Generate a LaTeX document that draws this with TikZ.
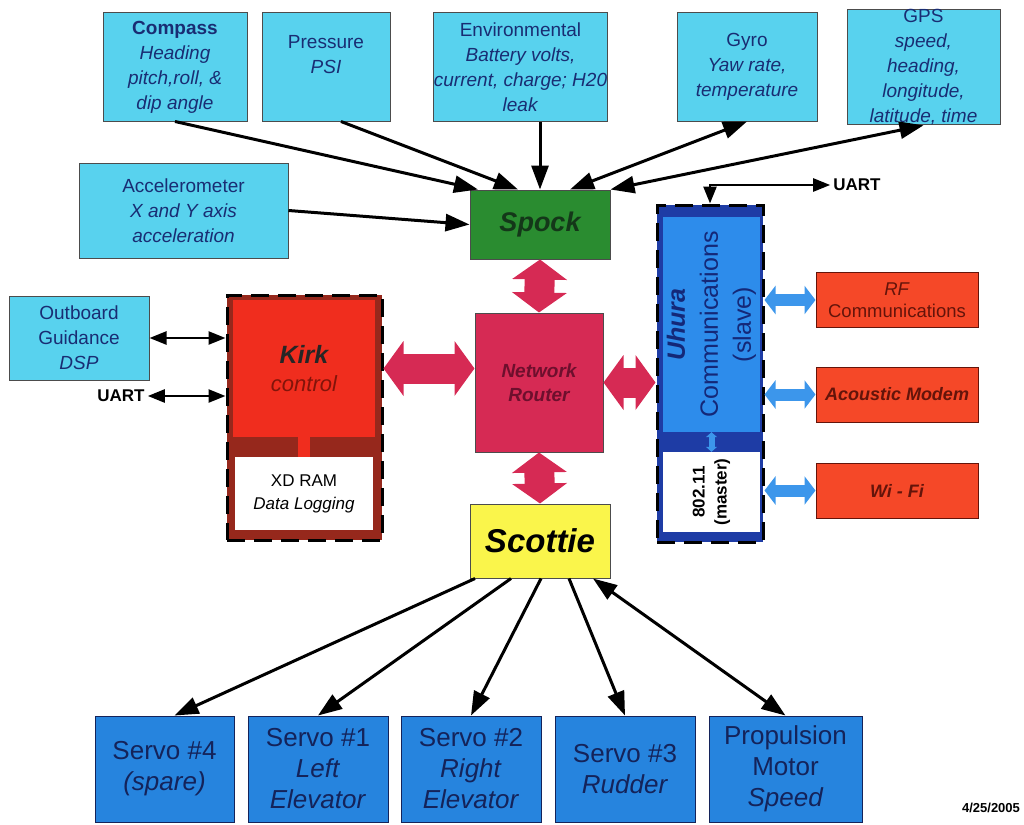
\documentclass[tikz,border=0pt]{standalone}
\usepackage{fontspec}
\setmainfont{Liberation Sans}
\usetikzlibrary{arrows.meta}

\definecolor{sensorcyan}{RGB}{88,210,238}
\definecolor{sensortext}{RGB}{25,45,115}
\definecolor{spockgreen}{RGB}{42,140,48}
\definecolor{spocktext}{RGB}{20,55,25}
\definecolor{routerred}{RGB}{214,42,84}
\definecolor{routertext}{RGB}{110,15,45}
\definecolor{kirkred}{RGB}{240,45,30}
\definecolor{kirkdark}{RGB}{150,40,28}
\definecolor{kirkctl}{RGB}{130,20,10}
\definecolor{scottieyellow}{RGB}{250,245,75}
\definecolor{uhurablue}{RGB}{45,140,235}
\definecolor{uhuradark}{RGB}{30,60,165}
\definecolor{uhuratext}{RGB}{20,40,120}
\definecolor{linkred}{RGB}{245,72,40}
\definecolor{linktext}{RGB}{100,20,10}
\definecolor{servoblue}{RGB}{38,132,222}
\definecolor{servotext}{RGB}{20,35,90}
\definecolor{busblue}{RGB}{60,150,235}

\begin{document}
\begin{tikzpicture}[x=1pt,y=-1pt,
  box/.style={rectangle,inner sep=0pt,align=center,draw=black!70,line width=1pt},
  sensor/.style={box,fill=sensorcyan,text=sensortext,minimum height=108pt,
    font=\fontsize{19}{25}\selectfont},
  link/.style={box,fill=linkred,text=linktext,draw=linktext,minimum width=162pt,
    minimum height=55pt,font=\fontsize{18.5}{22}\selectfont},
  servo/.style={box,fill=servoblue,text=servotext,draw=servotext,minimum width=140pt,
    minimum height=106pt,font=\fontsize{26}{31}\selectfont},
  frame/.style={rectangle,inner sep=0pt,draw=black,line width=3pt,
    dash pattern=on 18pt off 9pt},
  plain/.style={rectangle,inner sep=0pt,align=center},
  tag/.style={inner sep=3pt,font=\fontsize{17}{20}\selectfont\bfseries},
  sig/.style={line width=3pt,-{Triangle[length=24pt,width=17pt]}},
  sigboth/.style={line width=3pt,{Triangle[length=24pt,width=17pt]}-{Triangle[length=24pt,width=17pt]}},
  io/.style={line width=2.5pt,{Triangle[length=17pt,width=13pt]}-{Triangle[length=17pt,width=13pt]}},
  fat/.style={routerred,line width=30pt,{Triangle[length=20pt,width=54pt]}-{Triangle[length=20pt,width=54pt]}},
  bus/.style={busblue,line width=12pt,{Triangle[length=11pt,width=28pt]}-{Triangle[length=11pt,width=28pt]}}]
\useasboundingbox (0,0) rectangle (1024,824);

\node[sensor,minimum width=144pt] (compass) at (175,67)
  {\textbf{Compass}\\\textit{Heading}\\\textit{pitch,roll, \&}\\\textit{dip angle}};
\node[sensor,minimum width=128pt] (pressure) at (326,67) {Pressure\\\textit{PSI}\\~};
\node[sensor,minimum width=167pt] (environ) at (520.5,67)
  {Environmental\\\textit{Battery volts,}\\\textit{current, charge; H20}\\\textit{leak}};
\node[sensor,minimum width=140pt] (gyro) at (747,67) {Gyro\\\textit{Yaw rate,}\\\textit{temperature}};
\node[sensor,minimum width=153pt] (gps) at (923.5,67)
  {GPS\\\textit{speed,}\\\textit{heading,}\\\textit{longitude,}\\\textit{latitude, time}};
\node[sensor,minimum width=209pt,minimum height=95pt] (accel) at (183.5,210.5)
  {Accelerometer\\\textit{X and Y axis}\\\textit{acceleration}};
\node[sensor,minimum width=140pt,minimum height=84pt] (outboard) at (79,338)
  {Outboard\\Guidance\\\textit{DSP}};

\node[box,fill=spockgreen,text=spocktext,minimum width=140pt,minimum height=69pt,
  font=\fontsize{27}{30}\selectfont\bfseries\itshape] (spock) at (540,224.5) {Spock};
\node[box,fill=routerred,text=routertext,minimum width=128pt,minimum height=139pt,
  font=\fontsize{19}{24}\selectfont\bfseries\itshape] (router) at (539,382.5) {Network\\Router};
\node[box,fill=scottieyellow,minimum width=140pt,minimum height=74pt,
  font=\fontsize{33}{36}\selectfont\bfseries\itshape] (scottie) at (540,541) {Scottie};

\node[frame,fill=kirkdark,minimum width=155pt,minimum height=245pt] (kirkbox) at (304.5,417.5) {};
\node[plain,fill=kirkred,minimum width=142pt,minimum height=137pt,
  font=\fontsize{22}{28}\selectfont] (kirk) at (304,368.5)
  {\textcolor{black!85}{\fontsize{25}{28}\selectfont\bfseries\itshape Kirk}\\\textcolor{kirkctl}{\itshape control}};
\node[plain,fill=white,minimum width=138pt,minimum height=73pt,
  font=\fontsize{17}{23}\selectfont] (xdram) at (304,493.5) {XD RAM\\\textit{Data Logging}};

\node[frame,fill=uhuradark,minimum width=106pt,minimum height=337pt] (uhurabox) at (710,373.5) {};
\node[plain,fill=uhurablue,minimum width=97pt,minimum height=215pt] (uhura) at (711.5,324.5) {};
\node[plain,fill=white,minimum width=97pt,minimum height=80pt] (master) at (711.5,492) {};
\node[plain,rotate=90,text=uhuratext,font=\fontsize{25}{33}\selectfont] (uhuratext) at (uhura.center)
  {\textbf{\textit{Uhura}}\\Communications\\(slave)};
\node[plain,rotate=90,font=\fontsize{17}{22}\selectfont\bfseries] (mastertext) at (master.center)
  {802.11\\(master)};

\node[link] (rf) at (897,300) {\textit{RF}\\Communications};
\node[link,font=\fontsize{18}{22}\selectfont\bfseries\itshape] (acoustic) at (897,394.5) {Acoustic Modem};
\node[link,font=\fontsize{18}{22}\selectfont\bfseries\itshape] (wifi) at (897,490.5) {Wi - Fi};

\node[servo,minimum width=139pt] (servo4) at (164.5,769) {Servo \#4\\\textit{(spare)}};
\node[servo] (servo1) at (318,769) {Servo \#1\\\textit{Left}\\\textit{Elevator}};
\node[servo] (servo2) at (471,769) {Servo \#2\\\textit{Right}\\\textit{Elevator}};
\node[servo] (servo3) at (625,769) {Servo \#3\\\textit{Rudder}};
\node[servo,minimum width=153pt] (prop) at (785.5,769) {Propulsion\\Motor\\\textit{Speed}};

\node[tag] (uartl) at (121,396) {UART};
\node[tag] (uartt) at (857,185) {UART};
\node[font=\fontsize{13}{14}\selectfont\bfseries] (date) at (991,808) {4/25/2005};

\path[sig] (compass.south) edge ([xshift=-62pt]spock.north)
  ([xshift=15pt]pressure.south) edge ([xshift=-22pt]spock.north)
  (environ.south -| spock.north) edge (spock.north)
  (accel.east) edge (spock.west);
\path[sigboth] ([xshift=30pt]spock.north) edge (gyro.south)
  (spock.north east) edge (gps.south);
\path[io] (outboard.east) edge (outboard.east -| kirkbox.west)
  (uartl.east) edge (uartl.east -| kirkbox.west);
\draw[io] (uhurabox.north) |- (uartt.west);

\path[fat] (spock.south) edge (router.north)
  (router.south) edge (scottie.north)
  (kirkbox.east |- kirk.east) edge (router.west |- kirk.east)
  (router.east) edge (router.east -| uhurabox.west);
\path[bus] (rf.west -| uhurabox.east) edge (rf.west)
  (acoustic.west -| uhurabox.east) edge (acoustic.west)
  (wifi.west -| uhurabox.east) edge (wifi.west);
\draw[kirkred,line width=12pt] (kirk.south) -- (xdram.north);
\draw[busblue,line width=6pt,{Triangle[length=5pt,width=11pt]}-{Triangle[length=5pt,width=11pt]}]
  (uhura.south) -- (master.north);

\path[sig] ([xshift=-65pt]scottie.south) edge ([xshift=10pt]servo4.north)
  ([xshift=-29pt]scottie.south) edge (servo1.north)
  ([xshift=1pt]scottie.south) edge (servo2.north)
  ([xshift=29pt]scottie.south) edge (servo3.north);
\path[sigboth] ([xshift=53pt]scottie.south) edge (prop.north);
\end{tikzpicture}
\end{document}
